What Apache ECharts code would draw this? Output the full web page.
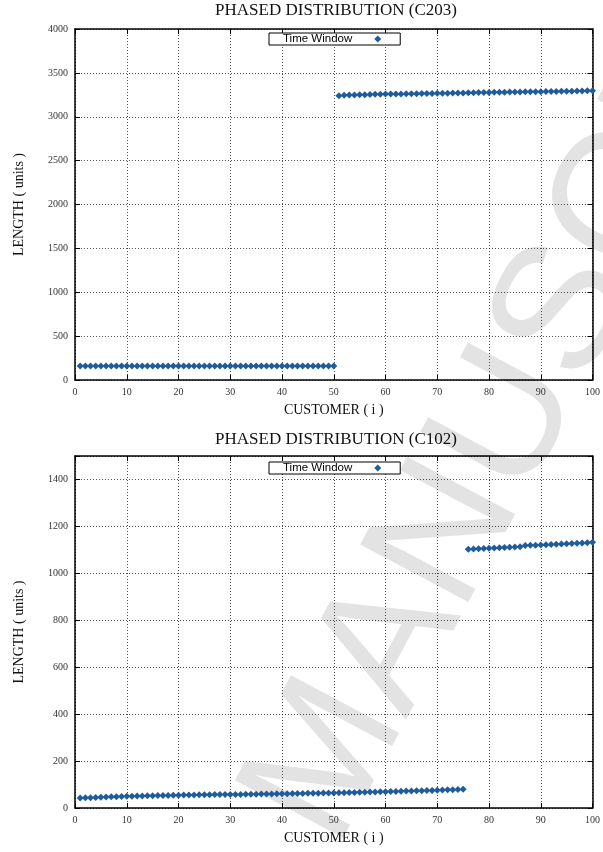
<!DOCTYPE html>
<html>
<head>
<meta charset="utf-8">
<script src="https://cdn.jsdelivr.net/npm/echarts@6/dist/echarts.min.js"></script>
<style>html,body{margin:0;padding:0;background:#fff}#chart{width:603px;height:852px}</style>
</head>
<body>
<div id="chart"></div>
<script>
// Panel titles
const titles = ['PHASED DISTRIBUTION (C203)', 'PHASED DISTRIBUTION (C102)'];
const seriesName = 'Time Window';
const xName = 'CUSTOMER ( i )';
const yName = 'LENGTH ( units )';

// C203: customers 1-50 and 51-100
const c203Low = [160,160,160,160,160,160,160,160,160,160,
                 160,160,160,160,160,160,160,160,160,160,
                 160,160,160,160,160,160,160,160,160,160,
                 160,160,160,160,160,160,160,160,160,160,
                 160,160,160,160,160,160,160,160,160,160];
const c203High = [3240,3244,3247,3249,3251,3252,3254,3255,3257,3258,
                  3259,3260,3260,3261,3262,3263,3264,3265,3266,3267,
                  3268,3269,3270,3271,3272,3273,3274,3275,3276,3277,
                  3278,3279,3280,3281,3282,3283,3284,3285,3285,3286,
                  3287,3288,3289,3290,3291,3292,3293,3294,3295,3296];

// C102: customers 1-75 and 76-100
const c102Low = [43,44,44,45,46,47,48,48,49,50,
                 50,51,51,52,52,53,53,53,54,54,
                 55,55,55,56,56,56,57,57,57,58,
                 58,58,59,59,59,60,60,60,61,61,
                 61,62,62,62,63,63,63,64,64,64,
                 65,65,66,66,67,67,68,68,69,69,
                 70,70,71,72,72,73,74,75,75,76,
                 77,78,78,79,80];
const c102High = [1103,1104,1105,1106,1107,1108,1109,1110,1111,1112,1113,
                  1119,1120,1120,1121,1122,1123,1124,1125,1126,1127,1128,1129,1130,1132];

const watermark = 'ACCEPTED MANUSCRIPT';

const toPoints = (arr) => arr.map((v, i) => [i + 1, v]);
const c203Data = toPoints(c203Low.concat(c203High));
const c102Data = toPoints(c102Low.concat(c102High));

const SERIF = '"Liberation Serif", "Times New Roman", serif';
const SANS = '"Liberation Sans", Arial, sans-serif';
const BLUE = '#1f5c9c';

const chart = echarts.init(document.getElementById('chart'), null, {renderer: 'canvas'});

function xAxes(gi) {
  return [
    {
      type: 'value', gridIndex: gi, position: 'bottom', min: 0, max: 100, interval: 10,
      name: xName, nameLocation: 'middle', nameGap: 23,
      nameTextStyle: {fontFamily: SERIF, fontSize: 14, color: '#111'},
      axisLine: {show: true, onZero: false, lineStyle: {color: '#000', width: 1.5}},
      axisTick: {show: true, inside: true, length: 5, lineStyle: {color: '#000', width: 1}},
      axisLabel: {fontFamily: SERIF, fontSize: 10, color: '#333', margin: 7},
      splitLine: {show: true, lineStyle: {color: '#222', width: 0.8, type: [1, 2]}}
    },
    {
      type: 'value', gridIndex: gi, position: 'top', min: 0, max: 100, interval: 10,
      axisLine: {show: true, onZero: false, lineStyle: {color: '#000', width: 1.5}},
      axisTick: {show: true, inside: true, length: 5, lineStyle: {color: '#000', width: 1}},
      axisLabel: {show: false},
      splitLine: {show: false}
    }
  ];
}

function yAxes(gi, max, interval) {
  return [
    {
      type: 'value', gridIndex: gi, position: 'left', min: 0, max: max, interval: interval,
      name: yName, nameLocation: 'middle', nameGap: 49, nameRotate: 90,
      nameTextStyle: {fontFamily: SERIF, fontSize: 14, color: '#111'},
      axisLine: {show: true, onZero: false, lineStyle: {color: '#000', width: 1.5}},
      axisTick: {show: true, inside: true, length: 5, lineStyle: {color: '#000', width: 1}},
      axisLabel: {fontFamily: SERIF, fontSize: 10, color: '#333', margin: 7,
        formatter: (v) => (v % interval !== 0) ? '' : String(v)},
      splitLine: {show: true, lineStyle: {color: '#222', width: 0.8, type: [1, 2]}}
    },
    {
      type: 'value', gridIndex: gi, position: 'right', min: 0, max: max, interval: interval,
      axisLine: {show: true, onZero: false, lineStyle: {color: '#000', width: 1.5}},
      axisTick: {show: true, inside: true, length: 5, lineStyle: {color: '#000', width: 1}},
      axisLabel: {show: false},
      splitLine: {show: false}
    }
  ];
}

function legendAt(top) {
  return {
    data: [{name: seriesName, icon: 'diamond'}], left: 269, top: top, orient: 'horizontal', align: 'right',
    padding: [0, 19, 0, 14], itemGap: 0, itemWidth: 7, itemHeight: 7,
    borderColor: '#000', borderWidth: 1, backgroundColor: '#fff',
    textStyle: {fontFamily: SANS, fontSize: 11.5, color: '#000', padding: [2, 17, 0, 0]}
  };
}

const option = {
  backgroundColor: '#fff',
  animation: false,
  title: [
    {text: titles[0], left: 336, top: 2, textAlign: 'center', padding: 0,
     textStyle: {fontFamily: SERIF, fontSize: 17, fontWeight: 'normal', color: '#111'}},
    {text: titles[1], left: 336, top: 431, textAlign: 'center', padding: 0,
     textStyle: {fontFamily: SERIF, fontSize: 17, fontWeight: 'normal', color: '#111'}}
  ],
  legend: [legendAt(33), legendAt(462)],
  grid: [
    {left: 75, right: 7, top: 29, height: 351},
    {left: 75, right: 7, top: 456, height: 352}
  ],
  xAxis: xAxes(0).concat(xAxes(1)),
  yAxis: yAxes(0, 4000, 500).concat(yAxes(1, 1500, 200)),
  series: [
    {name: seriesName, type: 'scatter', xAxisIndex: 0, yAxisIndex: 0,
     symbol: 'diamond', symbolSize: 7, itemStyle: {color: BLUE, opacity: 1}, data: c203Data},
    {name: seriesName, type: 'scatter', xAxisIndex: 2, yAxisIndex: 2,
     symbol: 'diamond', symbolSize: 7, itemStyle: {color: BLUE, opacity: 1}, data: c102Data}
  ],
  graphic: [
    {type: 'text', x: 330, y: 758, rotation: 62 * Math.PI / 180, z: -100, silent: true,
     style: {text: watermark, font: '178px ' + SANS, fill: '#e3e3e3',
             align: 'center', verticalAlign: 'middle', textAlign: 'center', textVerticalAlign: 'middle'}}
  ]
};
chart.setOption(option);
</script>
</body>
</html>
